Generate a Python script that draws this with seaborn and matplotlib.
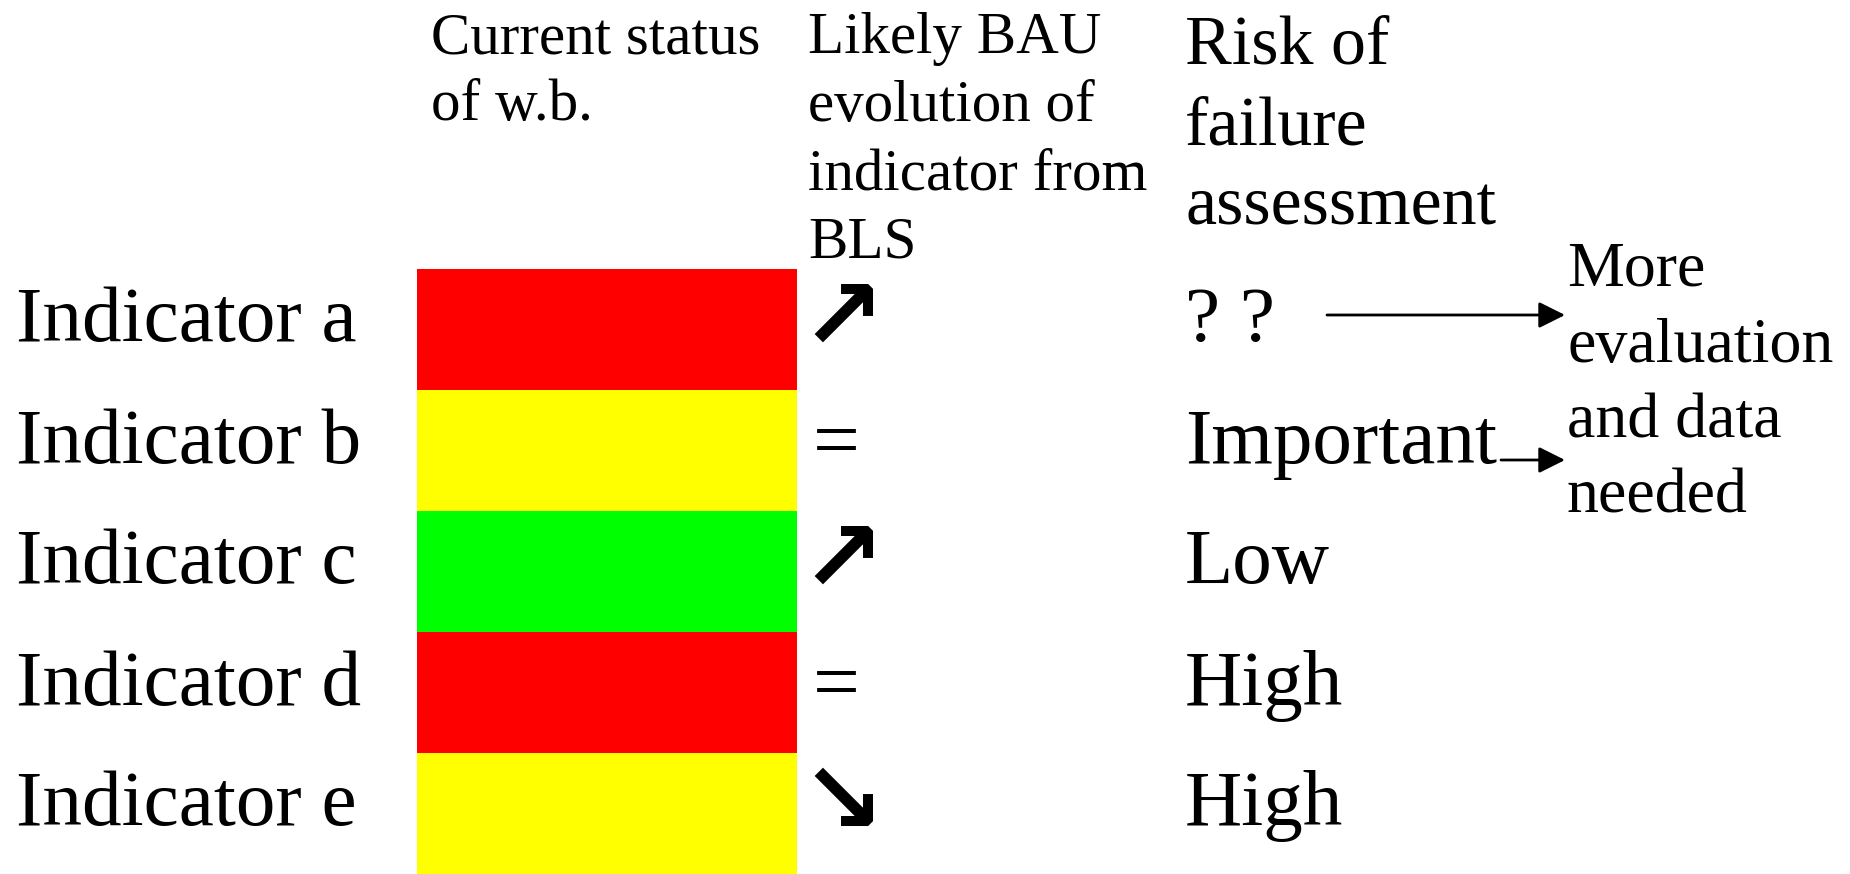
import numpy as np
import pandas as pd
import seaborn as sns
import matplotlib.pyplot as plt
from matplotlib.colors import ListedColormap
from matplotlib.transforms import offset_copy

# ---- data ----
indicators = ["Indicator a", "Indicator b", "Indicator c", "Indicator d", "Indicator e"]
status = ["red", "yellow", "green", "red", "yellow"]
trend = ["\u2197", "=", "\u2197", "=", "\u2198"]
risk = ["? ?", "Important", "Low", "High", "High"]
header_status = "Current status\nof w.b."
header_trend = "Likely BAU\nevolution of\nindicator from\nBLS"
header_risk = "Risk of\nfailure\nassessment"
note = "More\nevaluation\nand data\nneeded"
note_rows = ["? ?", "Important"]

status_levels = ["red", "yellow", "green"]
status_colors = ["#ff0000", "#ffff00", "#00ff00"]

sns.set_theme(style="white")
plt.rcParams['font.family'] = ['Liberation Serif', 'DejaVu Sans']

W, H = 1850, 874
fig = plt.figure(figsize=(W / 100, H / 100), dpi=100)
fig.patch.set_facecolor("white")

ax = fig.add_axes([417 / W, 0, 380 / W, 605 / H])
codes = pd.DataFrame({"status": [status_levels.index(s) for s in status]}, index=indicators)
sns.heatmap(codes, ax=ax, cmap=ListedColormap(status_colors), vmin=-0.5, vmax=2.5,
            cbar=False, xticklabels=False, yticklabels=False, linewidths=0)
ax.set_xlabel("")
ax.set_ylabel("")
for s in ax.spines.values():
    s.set_visible(False)

# transform: x in axes fraction, y in data rows, shifted to text baseline
row_tr = offset_copy(ax.get_yaxis_transform(), fig=fig, y=-12, units='dots')
arrow_tr = offset_copy(ax.get_yaxis_transform(), fig=fig, y=-19, units='dots')
eq_tr = offset_copy(ax.get_yaxis_transform(), fig=fig, y=-16, units='dots')

def xa(px):
    return (px - 417) / 380

for i, (lab, tr, rk) in enumerate(zip(indicators, trend, risk)):
    yc = i + 0.5
    ax.text(xa(16), yc, lab, transform=row_tr, ha='left', va='baseline',
            fontsize=57, color='black', clip_on=False)
    if tr == "=":
        ax.text(xa(813), yc, tr, transform=eq_tr, ha='left', va='baseline',
                fontsize=60, color='black', clip_on=False)
    else:
        ax.text(xa(800), yc, tr, transform=arrow_tr, ha='left', va='baseline',
                fontsize=72, color='black', clip_on=False,
                family='DejaVu Sans', fontweight='bold')
    ax.text(xa(1185), yc, rk, transform=row_tr, ha='left', va='baseline',
            fontsize=57, color='black', clip_on=False)

# headers
fig.text(431 / W, 1 - 12 / H, header_status, ha='left', va='top', fontsize=42.5,
         linespacing=1.32, color='black')
fig.text(808 / W, 1 - 12 / H, header_trend, ha='left', va='top', fontsize=42.5,
         linespacing=1.345, color='black')
fig.text(1185 / W, 1 - 15 / H, header_risk, ha='left', va='top', fontsize=50.4,
         linespacing=1.355, color='black')
fig.text(1567 / W, 1 - 242 / H, note, ha='left', va='top', fontsize=46,
         linespacing=1.40, color='black')

# arrows pointing to the note
arrow_spans = {"? ?": (1327, 1565, 559), "Important": (1501, 1565, 414)}
for key in note_rows:
    x0, x1, yy = arrow_spans[key]
    ax.annotate("", xy=(x1, yy), xytext=(x0, yy), xycoords='figure pixels',
                textcoords='figure pixels', annotation_clip=False,
                arrowprops=dict(arrowstyle='-|>,head_length=0.8,head_width=0.4',
                                lw=2, color='black', shrinkA=0, shrinkB=0,
                                mutation_scale=20))

fig.savefig("out.png", dpi=100, facecolor="white")
